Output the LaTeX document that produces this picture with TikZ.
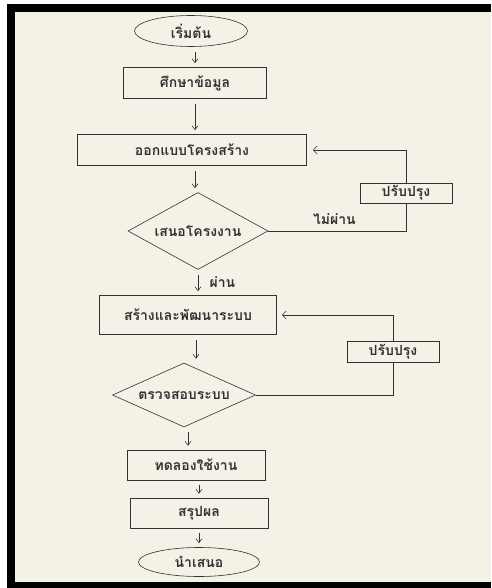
\documentclass[tikz,border=0pt]{standalone}
\usepackage{fontspec}
\newfontfamily\thaifont[Script=Thai]{Loma}
\usepackage{xcolor}
\definecolor{paper}{RGB}{244,242,230}
\definecolor{ink}{RGB}{50,50,50}
\usetikzlibrary{shapes.geometric,arrows.meta}
\tikzset{
    every node/.style={font=\thaifont\bfseries\fontsize{14}{16}\selectfont, text=ink},
    stepbox/.style={draw=ink, rectangle, inner sep=0pt},
    endcap/.style={draw=ink, ellipse, inner sep=0pt},
    choice/.style={draw=ink, diamond, inner sep=0pt},
    fixbox/.style={draw=ink, rectangle, inner sep=0pt, minimum width=92, minimum height=20},
    flow/.style={draw=ink, -{Straight Barb[length=4pt,width=6pt]}, shorten <=5pt, shorten >=4pt},
    back/.style={draw=ink, line width=0.6pt}
}

\begin{document}
\begin{tikzpicture}[x=1pt, y=-1pt, line width=0.6pt]
                \useasboundingbox (0,0) rectangle (491,588);
                \fill[white] (0,0) rectangle (491,588);
                \fill[paper] (7,4) rectangle (491,588);
                \fill[black] (7,4) rectangle (491,12);
                \fill[black] (7,4) rectangle (15,588);
                \fill[black] (7,582) rectangle (491,588);

                \node[endcap, minimum width=113, minimum height=31] (start) at (191,31) {เริ่มต้น};
                \node[stepbox, minimum width=143, minimum height=31] (study) at (195,83) {ศึกษาข้อมูล};
                \node[stepbox, minimum width=229, minimum height=31] (design) at (192,150) {ออกแบบโครงสร้าง};
                \node[choice, aspect=1.8, minimum width=140, minimum height=77] (propose) at (198,231) {เสนอโครงงาน};
                \node[fixbox] (fixA) at (406,193) {ปรับปรุง};
                \node[stepbox, minimum width=177, minimum height=39] (build) at (188,315) {สร้างและพัฒนาระบบ};
                \node[fixbox, minimum height=21] (fixB) at (393,352) {ปรับปรุง};
                \node[choice, aspect=2.2, minimum width=143, minimum height=64] (check) at (184,395) {ตรวจสอบระบบ};
                \node[stepbox, minimum width=138, minimum height=30] (trial) at (196,465) {ทดลองใช้งาน};
                \node[stepbox, minimum width=138, minimum height=30] (conclude) at (199,513) {สรุปผล};
                \node[endcap, minimum width=121, minimum height=29] (present) at (199,562) {นำเสนอ};

                \draw[flow] (start.south -| study) -- (study.north);
                \draw[flow] (study.south) -- (study.south |- design.north);
                \draw[flow] (design.south -| study) -- (study |- propose.north);
                \draw[flow] (propose.south) -- node[right=8pt] {ผ่าน} (propose.south |- build.north);
                \draw[flow] (build.south -| trial) -- (trial |- check.north);
                \draw[flow] (check.south -| build) -- (build |- trial.north);
                \draw[flow] (trial.south -| present) -- (present |- conclude.north);
                \draw[flow] (conclude.south -| present) -- (present.north);

                \draw[back] (propose.east) -| node[pos=0.24, above=3pt] {ไม่ผ่าน} (fixA.south);
                \draw[back, -{Straight Barb[length=4pt,width=8pt]}, shorten >=6pt] (fixA.north) |- (design.east);
                \draw[back] (check.east) -| (fixB.south);
                \draw[back, -{Straight Barb[length=4pt,width=8pt]}, shorten >=5pt] (fixB.north) |- (build.east);
\end{tikzpicture}
\end{document}
